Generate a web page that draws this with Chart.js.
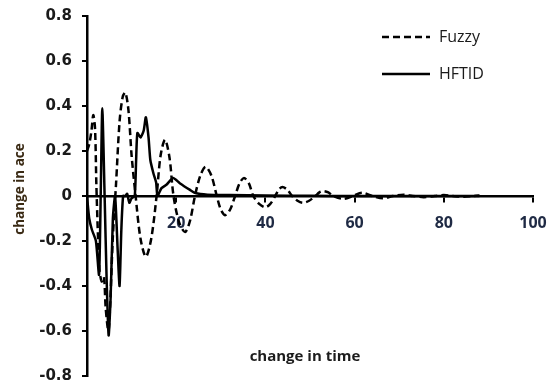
<!DOCTYPE html>
<html><head><meta charset="utf-8">
<script src="https://cdn.jsdelivr.net/npm/chart.js@4/dist/chart.umd.min.js"></script>
<style>html,body{margin:0;padding:0;background:#fff}#wrap{width:558px;height:385px}</style>
</head><body><div id="wrap"><canvas id="c" width="558" height="385"></canvas></div>
<script>
const seriesNames = ['Fuzzy', 'HFTID'];
const xTitle = 'change in time';
const yTitle = 'change in ace';
const xTicks = [0, 20, 40, 60, 80, 100];
const yTicks = [-0.8, -0.6, -0.4, -0.2, 0, 0.2, 0.4, 0.6, 0.8];

const fuzzyTime = [0, 0.5, 1.0, 1.4, 1.8, 2.1, 2.5, 2.8, 3.3, 3.8, 4.2, 4.8, 5.2, 5.8, 6.5, 7.3, 8.0, 8.6, 9.3, 10.0,
  10.9, 12.0, 13.2, 14.4, 15.6, 16.5, 17.5, 18.5, 19.4, 20.7, 22.0, 23.1, 24.2, 25.4, 26.6, 27.9, 29.1, 30.0, 31.0, 32.1,
  33.2, 34.2, 35.2, 36.3, 37.3, 38.6, 40.0, 41.1, 42.2, 43.0, 43.8, 44.9, 46.0, 47.2, 48.4, 49.8, 51.2, 52.1, 53.0, 54.1,
  55.2, 57.5, 59.6, 61.7, 64.0, 66.4, 68.6, 71.0, 73.0, 75.5, 78.0, 80.0, 82.0, 84.5, 86.5, 88.0];
const fuzzyValues = [0.20, 0.23, 0.29, 0.36, 0.30, 0.05, -0.20, -0.33, -0.38, -0.36, -0.50, -0.60, -0.48, -0.18, 0.05, 0.33, 0.44, 0.46, 0.38, 0.18,
  0.00, -0.19, -0.27, -0.19, 0.00, 0.18, 0.25, 0.17, 0.00, -0.12, -0.16, -0.11, 0.00, 0.09, 0.13, 0.09, 0.00, -0.06, -0.085, -0.06,
  0.00, 0.056, 0.08, 0.056, 0.00, -0.035, -0.05, -0.035, 0.00, 0.028, 0.04, 0.028, 0.00, -0.021, -0.03, -0.021, 0.00, 0.016, 0.022, 0.016,
  0.00, -0.013, 0.00, 0.015, 0.00, -0.010, 0.00, 0.006, 0.00, -0.005, 0.00, 0.004, 0.00, -0.003, 0.00, 0.002];

const hftidTime = [0, 0.5, 1.1, 2.0, 2.7, 3.07, 3.43, 3.95, 4.4, 4.85, 5.3, 5.8, 6.3, 6.9, 7.3, 7.7, 8.1, 8.6, 9.0, 9.5,
  10.0, 10.7, 11.0, 11.3, 12.0, 12.7, 13.2, 13.8, 14.2, 14.9, 15.5, 15.8, 16.7, 17.8, 19.3, 20.8, 23.1, 24.3, 27.0, 32.0,
  40.0, 50.0, 60.0, 88.0];
const hftidValues = [0, -0.10, -0.15, -0.20, -0.35, 0.00, 0.39, 0.00, -0.37, -0.62, -0.45, -0.10, 0.00, -0.25, -0.40, -0.15, 0.00, 0.00, 0.01, -0.03,
  -0.01, 0.00, 0.15, 0.28, 0.26, 0.29, 0.35, 0.26, 0.16, 0.10, 0.06, 0.00, 0.035, 0.05, 0.08, 0.057, 0.027, 0.013, 0.006, 0.004,
  0.002, 0.001, 0.0, 0.0];

const toPoints = (ts, vs) => ts.map((t, i) => ({x: t, y: vs[i]}));

const overlay = {
  id: 'overlay',
  afterDraw(chart) {
    const {ctx} = chart;
    ctx.save();
    ctx.fillStyle = '#1c1c1c';
    ctx.font = 'bold 15px "Open Sans"';
    ctx.textAlign = 'center';
    ctx.textBaseline = 'middle';
    ctx.fillText(xTitle, 305, 357);
    ctx.save();
    ctx.translate(20, 189);
    ctx.rotate(-Math.PI / 2);
    ctx.fillStyle = '#3a2a14';
    ctx.font = 'bold 13.5px "Open Sans"';
    ctx.fillText(yTitle, 0, 0);
    ctx.restore();
    const lx0 = 382, lx1 = 430;
    const rows = [37, 74];
    ctx.strokeStyle = '#000';
    ctx.lineWidth = 2.5;
    chart.data.datasets.forEach((ds, i) => {
      ctx.beginPath();
      ctx.setLineDash(ds.borderDash || []);
      ctx.moveTo(lx0, rows[i]);
      ctx.lineTo(lx1, rows[i]);
      ctx.stroke();
      ctx.setLineDash([]);
      ctx.fillStyle = '#1a1a1a';
      ctx.font = '16px "Open Sans"';
      ctx.textAlign = 'left';
      ctx.fillText(ds.label, 439, rows[i]);
    });
    ctx.restore();
  }
};

new Chart(document.getElementById('c'), {
  type: 'scatter',
  data: {
    datasets: [
      {label: seriesNames[0], data: toPoints(fuzzyTime, fuzzyValues), showLine: true, borderColor: '#000',
       borderWidth: 2.5, borderDash: [7, 4], pointRadius: 0, tension: 0.3, fill: false},
      {label: seriesNames[1], data: toPoints(hftidTime, hftidValues), showLine: true, borderColor: '#000',
       borderWidth: 2.5, pointRadius: 0, tension: 0.2, fill: false}
    ]
  },
  options: {
    responsive: false,
    animation: false,
    events: [],
    layout: {padding: {left: 0, right: 25, top: 16, bottom: 9}},
    plugins: {legend: {display: false}, tooltip: {enabled: false}},
    scales: {
      x: {
        type: 'linear', min: 0, max: 100,
        position: {y: 0},
        afterBuildTicks: s => { s.ticks = xTicks.map(v => ({value: v})); },
        afterFit: s => { s.height = 0; s.paddingLeft = 0; s.paddingRight = 0; },
        ticks: {
          callback: v => v === 0 ? '' : String(v),
          font: {family: '"Open Sans"', size: 16, weight: 'bold'},
          color: '#1f2a44', padding: 13, maxRotation: 0, autoSkip: false
        },
        grid: {drawOnChartArea: false, drawTicks: true, tickLength: 5, color: '#000', lineWidth: 2},
        border: {display: true, color: '#000', width: 2.5}
      },
      y: {
        type: 'linear', min: -0.8, max: 0.8,
        afterBuildTicks: s => { s.ticks = yTicks.map(v => ({value: v})); },
        afterFit: s => { s.width = 87; s.paddingTop = 0; s.paddingBottom = 0; },
        ticks: {
          callback: v => Math.abs(v) < 1e-9 ? '0' : v.toFixed(1),
          font: {family: '"DejaVu Sans"', size: 15, weight: 'bold'},
          color: '#1a1a1a', padding: 10, autoSkip: false
        },
        grid: {drawOnChartArea: false, drawTicks: true, tickLength: 5, color: '#000', lineWidth: 2},
        border: {display: true, color: '#000', width: 2.5}
      }
    }
  },
  plugins: [overlay]
});
</script>
</body></html>
